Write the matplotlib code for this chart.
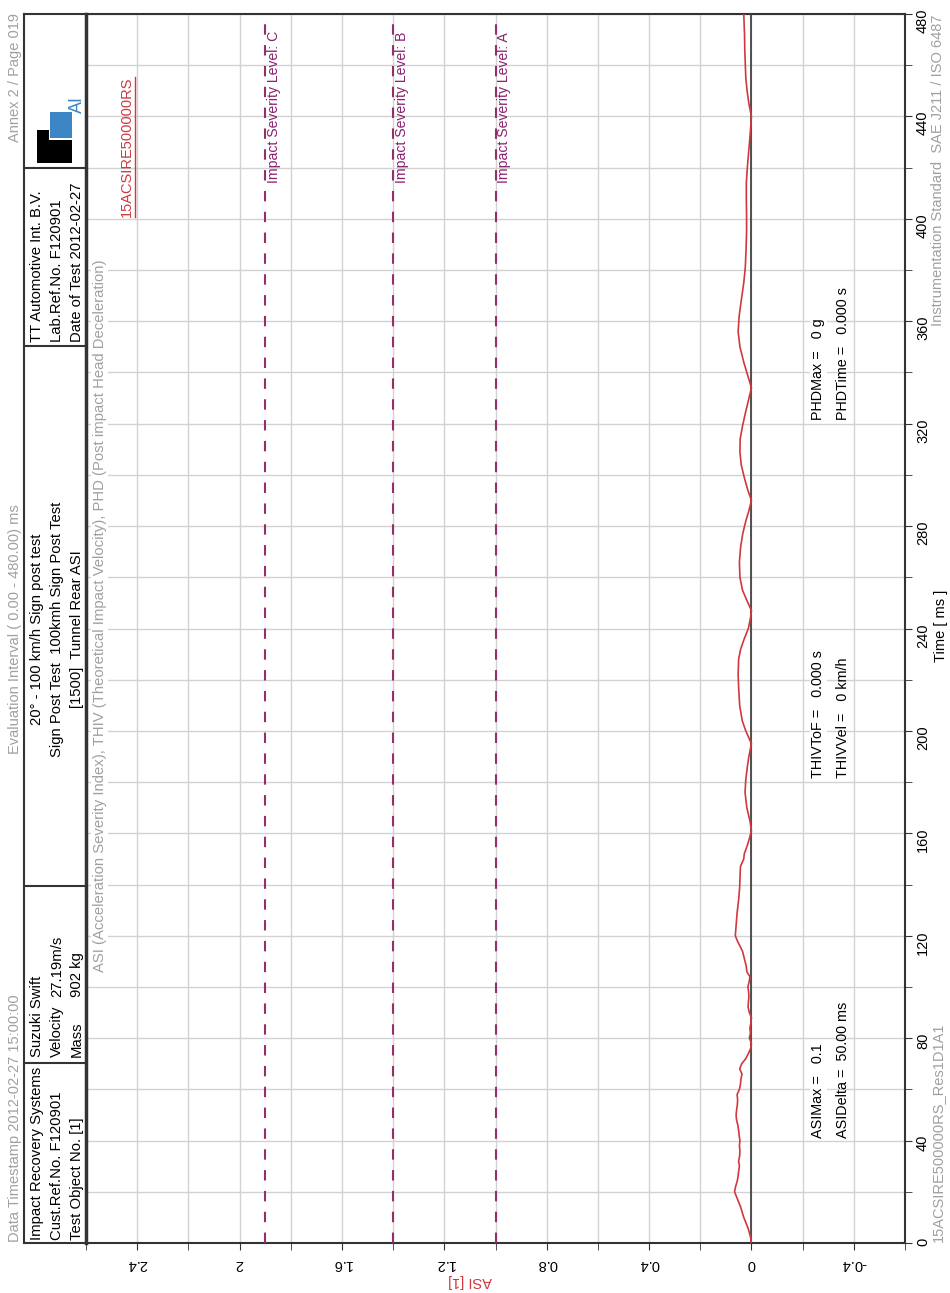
import matplotlib
matplotlib.use('Agg')
import matplotlib.pyplot as plt
from matplotlib.lines import Line2D
from matplotlib.patches import Rectangle
from matplotlib.ticker import MultipleLocator, FuncFormatter

plt.rcParams['font.family'] = ['Liberation Sans', 'DejaVu Sans']
plt.rcParams['axes.unicode_minus'] = False

# ASI trace (time in ms, ASI dimensionless)
time_ms = [0, 2, 4, 6, 8, 10, 12, 14, 16, 18, 20, 22, 24, 26, 28, 30, 32, 34, 36, 38,
           40, 42, 44, 46, 48, 50, 52, 54, 56, 58, 60, 62, 64, 66, 68, 70, 72, 74, 76, 78,
           80, 82, 84, 86, 88, 90, 92, 94, 96, 98, 100, 102, 104, 106, 108, 110, 114, 118,
           120, 124, 129, 134, 139, 144, 147, 150, 152, 155, 158, 161, 165, 170, 176, 181,
           186, 190, 195, 200, 204, 210, 217, 222, 228, 232, 236, 240, 244, 247, 251, 255,
           260, 266, 272, 277, 282, 286, 290, 294, 299, 304, 309, 314, 319, 324, 329, 334,
           339, 344, 350, 356, 362, 368, 375, 381, 388, 395, 401, 408, 414, 420, 427, 433,
           440, 445, 450, 455, 460, 466, 472, 480]
asi = [0.0, 0.003, 0.008, 0.014, 0.022, 0.03, 0.036, 0.042, 0.05, 0.058, 0.066, 0.062,
       0.056, 0.052, 0.05, 0.047, 0.05, 0.046, 0.045, 0.047, 0.045, 0.048, 0.05, 0.053,
       0.058, 0.06, 0.058, 0.055, 0.054, 0.056, 0.047, 0.043, 0.041, 0.037, 0.046, 0.038,
       0.022, 0.012, 0.003, 0.0, 0.008, 0.004, 0.006, 0.002, 0.0, 0.008, 0.013, 0.012,
       0.01, 0.011, 0.014, 0.009, 0.006, 0.018, 0.02, 0.025, 0.035, 0.055, 0.063, 0.06,
       0.056, 0.05, 0.046, 0.044, 0.043, 0.03, 0.028, 0.017, 0.008, 0.0, 0.006, 0.018,
       0.025, 0.022, 0.016, 0.01, 0.0, 0.022, 0.036, 0.046, 0.05, 0.052, 0.05, 0.042,
       0.028, 0.012, 0.004, 0.0, 0.018, 0.035, 0.045, 0.047, 0.042, 0.034, 0.022, 0.01,
       0.0, 0.014, 0.028, 0.04, 0.045, 0.044, 0.035, 0.024, 0.012, 0.0, 0.015, 0.03,
       0.045, 0.052, 0.048, 0.04, 0.03, 0.024, 0.021, 0.019, 0.019, 0.02, 0.02, 0.016,
       0.01, 0.005, 0.0, 0.01, 0.017, 0.022, 0.024, 0.026, 0.027, 0.03]

severity_levels = [1.9, 1.4, 1.0]
severity_names = ['C', 'B', 'A']

results_left = ['ASIMax =   0.1', 'THIVToF =   0.000 s', 'PHDMax =   0 g']
results_right = ['ASIDelta =  50.00 ms', 'THIVVel =   0 km/h', 'PHDTime =   0.000 s']
results_time = [41, 181.6, 321.4]

W, H = 950, 1293
RED = '#d0383f'
GRAY = '#a0a0a0'
DARK = '#333333'
PURPLE = '#93306a'
BLUE = '#3d86c6'


def fx(x):
    return x / W


def fy(y):
    return 1 - y / H


def fline(x0, y0, x1, y1, lw=1.5):
    fig.add_artist(Line2D([fx(x0), fx(x1)], [fy(y0), fy(y1)], transform=fig.transFigure,
                          color=DARK, lw=lw))


def frect(x0, y0, x1, y1, color):
    fig.add_artist(Rectangle((fx(x0), fy(y1)), (x1 - x0) / W, (y1 - y0) / H,
                             transform=fig.transFigure, facecolor=color, edgecolor='none'))


def ftext(x, y, s, va='bottom', ha='center', color='black', size=10.7, rot=90, **kw):
    return fig.text(fx(x), fy(y), s, rotation=rot, va=va, ha=ha, color=color,
                    fontsize=size, **kw)


fig = plt.figure(figsize=(W / 100, H / 100), dpi=100)
ax = fig.add_axes([fx(86), fy(1243), (905 - 86) / W, (1243 - 14) / H])

ax.plot(asi, time_ms, color=RED, lw=1.2, zorder=4)
ax.axvline(0, color='#444444', lw=1.3, zorder=3)

for lvl, name in zip(severity_levels, severity_names):
    ax.axvline(lvl, color=PURPLE, lw=1.5, ls=(0, (5, 5)), zorder=3)
    ax.text(lvl - 0.035, 414, 'Impact Severity Level: ' + name, rotation=90,
            va='bottom', ha='center', color='#8a2070', fontsize=10.1, zorder=5)

ax.set_xlim(2.6, -0.6)
ax.set_ylim(0, 480)
ax.xaxis.set_major_locator(MultipleLocator(0.4))
ax.xaxis.set_minor_locator(MultipleLocator(0.2))
ax.yaxis.set_major_locator(MultipleLocator(40))
ax.yaxis.set_minor_locator(MultipleLocator(20))
ax.xaxis.set_major_formatter(FuncFormatter(lambda v, p: '0' if abs(v) < 1e-9 else f'{v:g}'))
ax.yaxis.tick_right()
ax.grid(True, which='both', color='#d2d2d2', lw=1)
ax.set_axisbelow(True)
ax.tick_params(axis='y', which='both', direction='out', length=5, color=DARK,
               labelrotation=90, labelsize=10.5, pad=3)
ax.tick_params(axis='x', which='both', direction='out', length=5, color=DARK,
               labelrotation=180, labelsize=10.5, pad=5)
for s in ax.spines.values():
    s.set_color(DARK)
    s.set_linewidth(1.5)
ax.spines['left'].set_linewidth(2.5)

# result annotations
for left, right, t in zip(results_left, results_right, results_time):
    ax.text(-0.262, t, left, rotation=90, va='bottom', ha='center', fontsize=10.4,
            bbox=dict(facecolor='white', edgecolor='none', pad=1), zorder=5)
    ax.text(-0.359, t, right, rotation=90, va='bottom', ha='center', fontsize=10.4, zorder=5)

ax.text(2.547, 105.8, 'ASI (Acceleration Severity Index), THIV (Theoretical Impact Velocity), '
        'PHD (Post impact Head Deceleration)', rotation=90, va='bottom', ha='center',
        color=GRAY, fontsize=10.7, bbox=dict(facecolor='white', edgecolor='none', pad=1), zorder=5)
tag = ax.text(2.44, 400.7, '15ACSIRE500000RS', rotation=90, va='bottom', ha='center',
              color=RED, fontsize=10.5, zorder=5)

# header table
fline(24, 14, 24, 1243)
fline(24, 14, 86, 14)
fline(24, 1243, 86, 1243)
for yy in [168, 346, 886, 1063]:
    fline(24, yy, 86, yy)

ftext(37, 1240, 'Impact Recovery Systems')
ftext(57, 1240, 'Cust.Ref.No. F120901')
ftext(77, 1240, 'Test Object No. [1]')
ftext(37, 1057, 'Suzuki Swift')
ftext(57, 1057, 'Velocity')
ftext(77, 1057, 'Mass')
ftext(57, 997, '27.19m/s')
ftext(77, 997, '902 kg')
ftext(37, 629, '20° - 100 km/h Sign post test', va='center')
ftext(57, 629, 'Sign Post Test  100kmh Sign Post Test', va='center')
ftext(77, 629, '[1500]  Tunnel Rear ASI', va='center')
ftext(37, 342, 'TT Automotive Int. B.V.')
ftext(57, 342, 'Lab.Ref.No. F120901')
ftext(77, 342, 'Date of Test 2012-02-27')

# logo
frect(37, 140, 72, 163, 'black')
frect(37, 130, 49, 140, 'black')
frect(50, 112, 72, 138, BLUE)
ftext(77, 113, 'AI', va='bottom', color=BLUE, size=13)

# page margins
ftext(15, 1242, 'Data Timestamp 2012-02-27 15:00:00', color=GRAY, size=10.5)
ftext(15, 629, 'Evaluation Interval ( 0.00 - 480.00) ms', va='center', color=GRAY, size=10.5)
ftext(15, 13, 'Annex 2 / Page 019', va='top', color=GRAY, size=10.5)
ftext(938, 1242, '15ACSIRE500000RS_Res1D1A1', color=GRAY, size=10.5)
ftext(938, 14, 'Instrumentation Standard  SAE J211 / ISO 6487', va='top', color=GRAY, size=10.5)
ftext(941, 626, 'Time [ ms ]', va='center', size=10.5)
ftext(470, 1281, 'ASI [1]', va='center', color=RED, size=10.5, rot=180)

# underline for the red tag
fig.canvas.draw()
bb = tag.get_window_extent().transformed(fig.transFigure.inverted())
fig.add_artist(Line2D([bb.x1 + 1 / W, bb.x1 + 1 / W], [bb.y0, bb.y1], transform=fig.transFigure,
                      color=RED, lw=1))

fig.savefig('out.png', dpi=100)
